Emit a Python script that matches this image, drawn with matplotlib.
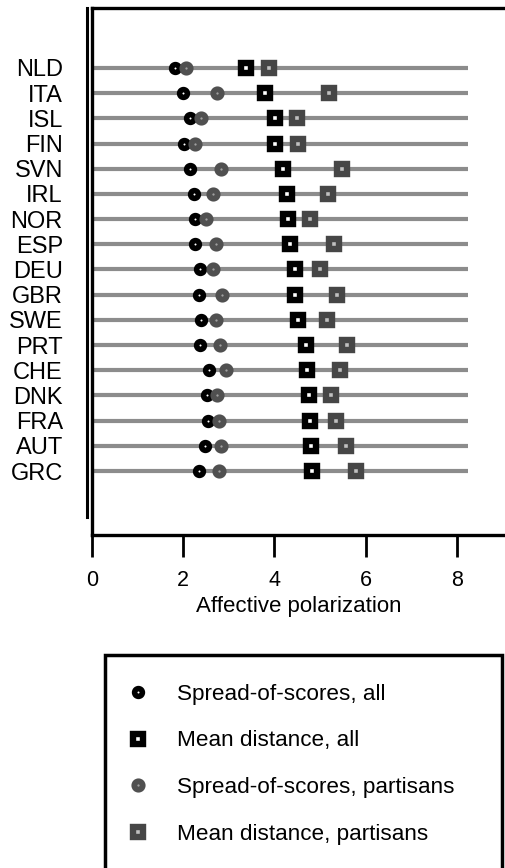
import matplotlib.pyplot as plt
from matplotlib.lines import Line2D

plt.rcParams['font.family'] = ['Liberation Sans', 'DejaVu Sans']

countries = ['NLD', 'ITA', 'ISL', 'FIN', 'SVN', 'IRL', 'NOR', 'ESP', 'DEU',
             'GBR', 'SWE', 'PRT', 'CHE', 'DNK', 'FRA', 'AUT', 'GRC']
spread_all = [1.82, 2.00, 2.15, 2.02, 2.15, 2.24, 2.25, 2.26, 2.37,
              2.35, 2.40, 2.37, 2.57, 2.52, 2.54, 2.48, 2.34]
mean_all = [3.38, 3.79, 4.01, 4.01, 4.19, 4.28, 4.30, 4.35, 4.45,
            4.46, 4.52, 4.70, 4.72, 4.77, 4.79, 4.80, 4.82]
spread_part = [2.06, 2.74, 2.39, 2.27, 2.83, 2.66, 2.49, 2.73, 2.66,
               2.85, 2.72, 2.80, 2.94, 2.75, 2.79, 2.82, 2.78]
mean_part = [3.88, 5.20, 4.50, 4.52, 5.48, 5.18, 4.79, 5.31, 4.99,
             5.38, 5.15, 5.60, 5.43, 5.24, 5.35, 5.57, 5.78]
labels = ['Spread-of-scores, all', 'Mean distance, all',
          'Spread-of-scores, partisans', 'Mean distance, partisans']

fig = plt.figure(figsize=(5.06, 8.68), dpi=100)
ax = fig.add_axes([92 / 506, 1 - 535 / 868, 1 - 92 / 506, 527 / 868])

ypos = list(range(len(countries)))
ax.hlines(ypos, 0, 8.24, color='#8c8c8c', lw=3, zorder=1)

styles = [
    dict(marker='o', ms=5.6, mfc='white', mec='black', mew=4.0),
    dict(marker='s', ms=6.5, mfc='white', mec='black', mew=4.6),
    dict(marker='o', ms=6.0, mfc='#a0a0a0', mec='#505050', mew=4.2),
    dict(marker='s', ms=6.7, mfc='#c0c0c0', mec='#464646', mew=4.6),
]
series = [spread_all, mean_all, spread_part, mean_part]
handles = []
for vals, st, lab in zip(series, styles, labels):
    ax.plot(vals, ypos, ls='none', zorder=3, **st)
    handles.append(Line2D([], [], ls='none', label=lab, **st))

ax.set_xlim(0, 9.08)
ax.set_ylim(16 + 2.54, -2.38)
ax.set_xticks([0, 2, 4, 6, 8])
ax.set_yticks(ypos)
ax.set_yticklabels(countries, fontsize=17)
ax.tick_params(axis='y', length=0, pad=21)
ax.tick_params(axis='x', length=16, width=2, pad=9, labelsize=15.5)
ax.set_xlabel('Affective polarization', fontsize=16, labelpad=4)
for side in ['left', 'top', 'bottom']:
    ax.spines[side].set_linewidth(2.4)
ax.spines['right'].set_visible(False)

# second line of the doubled left frame
fig.add_artist(Line2D([87 / 506, 87 / 506], [1 - 8 / 868, 1 - 517 / 868],
                      color='black', lw=2.2, transform=fig.transFigure))

leg_top = 1 - 655 / 868
leg = fig.legend(handles=handles, loc='upper left',
                 bbox_to_anchor=(105 / 506, leg_top - 0.1, 397 / 506, 0.1),
                 mode='expand', borderaxespad=0, fontsize=16.2,
                 frameon=True, fancybox=False, edgecolor='black', framealpha=1,
                 labelspacing=1.14, borderpad=1.28, handletextpad=1.55,
                 handlelength=0.35)
leg.get_frame().set_linewidth(2.5)

fig.savefig('out.png', dpi=100)
